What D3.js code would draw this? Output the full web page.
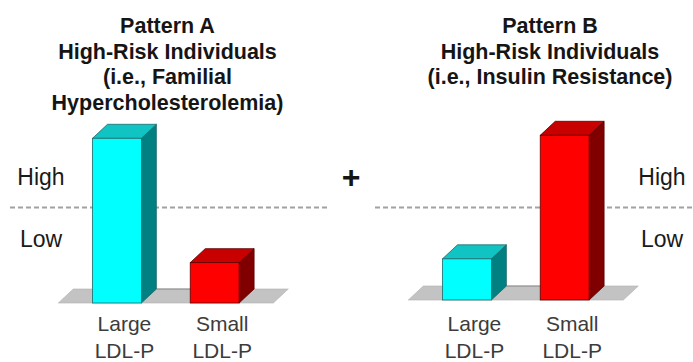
<!DOCTYPE html>
<html>
<head>
<meta charset="utf-8">
<script src="https://cdn.jsdelivr.net/npm/d3@7"></script>
<style>
  html, body { margin: 0; padding: 0; background: #fff; overflow: hidden; }
  svg { display: block; }
</style>
</head>
<body>
<svg id="chart" width="693" height="362"></svg>
<script>
// LDL particle categories and their relative levels (0-100 scale)
const categories = ["Large LDL-P", "Small LDL-P"];
const categoryLines = [["Large", "LDL-P"], ["Small", "LDL-P"]];
const patternA = [100, 24.5];
const patternB = [25, 100];
const threshold = 58;          // boundary between "Low" and "High"
const levelLabels = ["High", "Low"];
const titleA = ["Pattern A", "High-Risk Individuals", "(i.e., Familial", "Hypercholesterolemia)"];
const titleB = ["Pattern B", "High-Risk Individuals", "(i.e., Insulin Resistance)"];

// face colours per category: front, top, side, outline
const palette = [
  { front: "#00ffff", top: "#10c4c4", side: "#008080", edge: "#1e6a6a" },
  { front: "#ff0000", top: "#c80000", side: "#800000", edge: "#5a0000" }
];

const W = 693, H = 362;
const depthX = 15, depthY = -14;
const font = "'Liberation Sans', Arial, Helvetica, sans-serif";

const svg = d3.select("#chart");

// shared vertical scale: value -> y
const y = d3.scaleLinear().domain([0, 100]).range([303, 138.3]);

const panels = [
  { title: titleA, values: patternA, range: [58.3, 273.3], shift: 0, cx: 167.5,
    dash: [10, 330], levelX: 41 },
  { title: titleB, values: patternB, range: [408.3, 623.3], shift: -3, cx: 550,
    dash: [375, 693], levelX: 662 }
];

panels.forEach(p => {
  // threshold line (behind bars)
  svg.append("line")
    .attr("x1", p.dash[0]).attr("x2", p.dash[1])
    .attr("y1", y(threshold)).attr("y2", y(threshold))
    .attr("stroke", "#a2a2a2").attr("stroke-width", 2)
    .attr("stroke-dasharray", "5,3");

  // level labels
  svg.selectAll(null).data(levelLabels).enter().append("text")
    .attr("x", p.levelX)
    .attr("y", (d, i) => i === 0 ? 185 : 246.5)
    .attr("text-anchor", "middle")
    .attr("font-family", font).attr("font-size", 23)
    .attr("fill", "#1a1a1a")
    .text(d => d);

  // title
  svg.selectAll(null).data(p.title).enter().append("text")
    .attr("x", p.cx)
    .attr("y", (d, i) => 33 + i * 25.5)
    .attr("text-anchor", "middle")
    .attr("font-family", font).attr("font-size", 21.5).attr("font-weight", "bold")
    .attr("fill", "#151515")
    .text(d => d);

  const g = svg.append("g").attr("transform", `translate(0,${p.shift})`);
  const x = d3.scaleBand().domain(categories).range(p.range)
    .paddingInner(0.5).paddingOuter(0.35);
  const base = y(0);
  const bw = x.bandwidth();

  // floor plane
  const [fx0, fx1] = p.range;
  g.append("polygon")
    .attr("points", [[fx0, base], [fx0 + depthX, base + depthY],
                     [fx1 + depthX, base + depthY], [fx1, base]].join(" "))
    .attr("fill", "#c3c3c3").attr("stroke", "#b0b0b0").attr("stroke-width", 0.6);

  // back edge of floor between bars
  g.append("line")
    .attr("x1", x(categories[0]) + bw + depthX).attr("x2", x(categories[1]))
    .attr("y1", base + depthY).attr("y2", base + depthY)
    .attr("stroke", "#8a8a8a").attr("stroke-width", 1);

  const bars = g.selectAll(".bar").data(p.values).enter().append("g").attr("class", "bar");

  bars.each(function (v, i) {
    const c = palette[i];
    const bx = x(categories[i]);
    const top = y(v);
    const sel = d3.select(this);
    // side face
    sel.append("polygon")
      .attr("points", [[bx + bw, top], [bx + bw + depthX, top + depthY],
                       [bx + bw + depthX, base + depthY], [bx + bw, base]].join(" "))
      .attr("fill", c.side).attr("stroke", c.edge).attr("stroke-width", 0.8)
      .attr("stroke-linejoin", "round");
    // top face
    sel.append("polygon")
      .attr("points", [[bx, top], [bx + depthX, top + depthY],
                       [bx + bw + depthX, top + depthY], [bx + bw, top]].join(" "))
      .attr("fill", c.top).attr("stroke", c.edge).attr("stroke-width", 0.8)
      .attr("stroke-linejoin", "round");
    // front face
    sel.append("rect")
      .attr("x", bx).attr("y", top)
      .attr("width", bw).attr("height", base - top)
      .attr("fill", c.front).attr("stroke", c.edge).attr("stroke-width", 0.8);
  });

  // category labels
  categories.forEach((cat, i) => {
    const lx = x(cat) + (bw + depthX) / 2;
    svg.selectAll(null).data(categoryLines[i]).enter().append("text")
      .attr("x", lx)
      .attr("y", (d, j) => 331 + j * 27)
      .attr("text-anchor", "middle")
      .attr("font-family", font).attr("font-size", 21)
      .attr("fill", "#3c3c3c")
      .text(d => d);
  });
});

// plus sign between the two patterns
svg.append("text")
  .attr("x", 351).attr("y", 187.5)
  .attr("text-anchor", "middle")
  .attr("font-family", font).attr("font-size", 32).attr("font-weight", "bold")
  .attr("fill", "#151515")
  .text("+");
</script>
</body>
</html>
